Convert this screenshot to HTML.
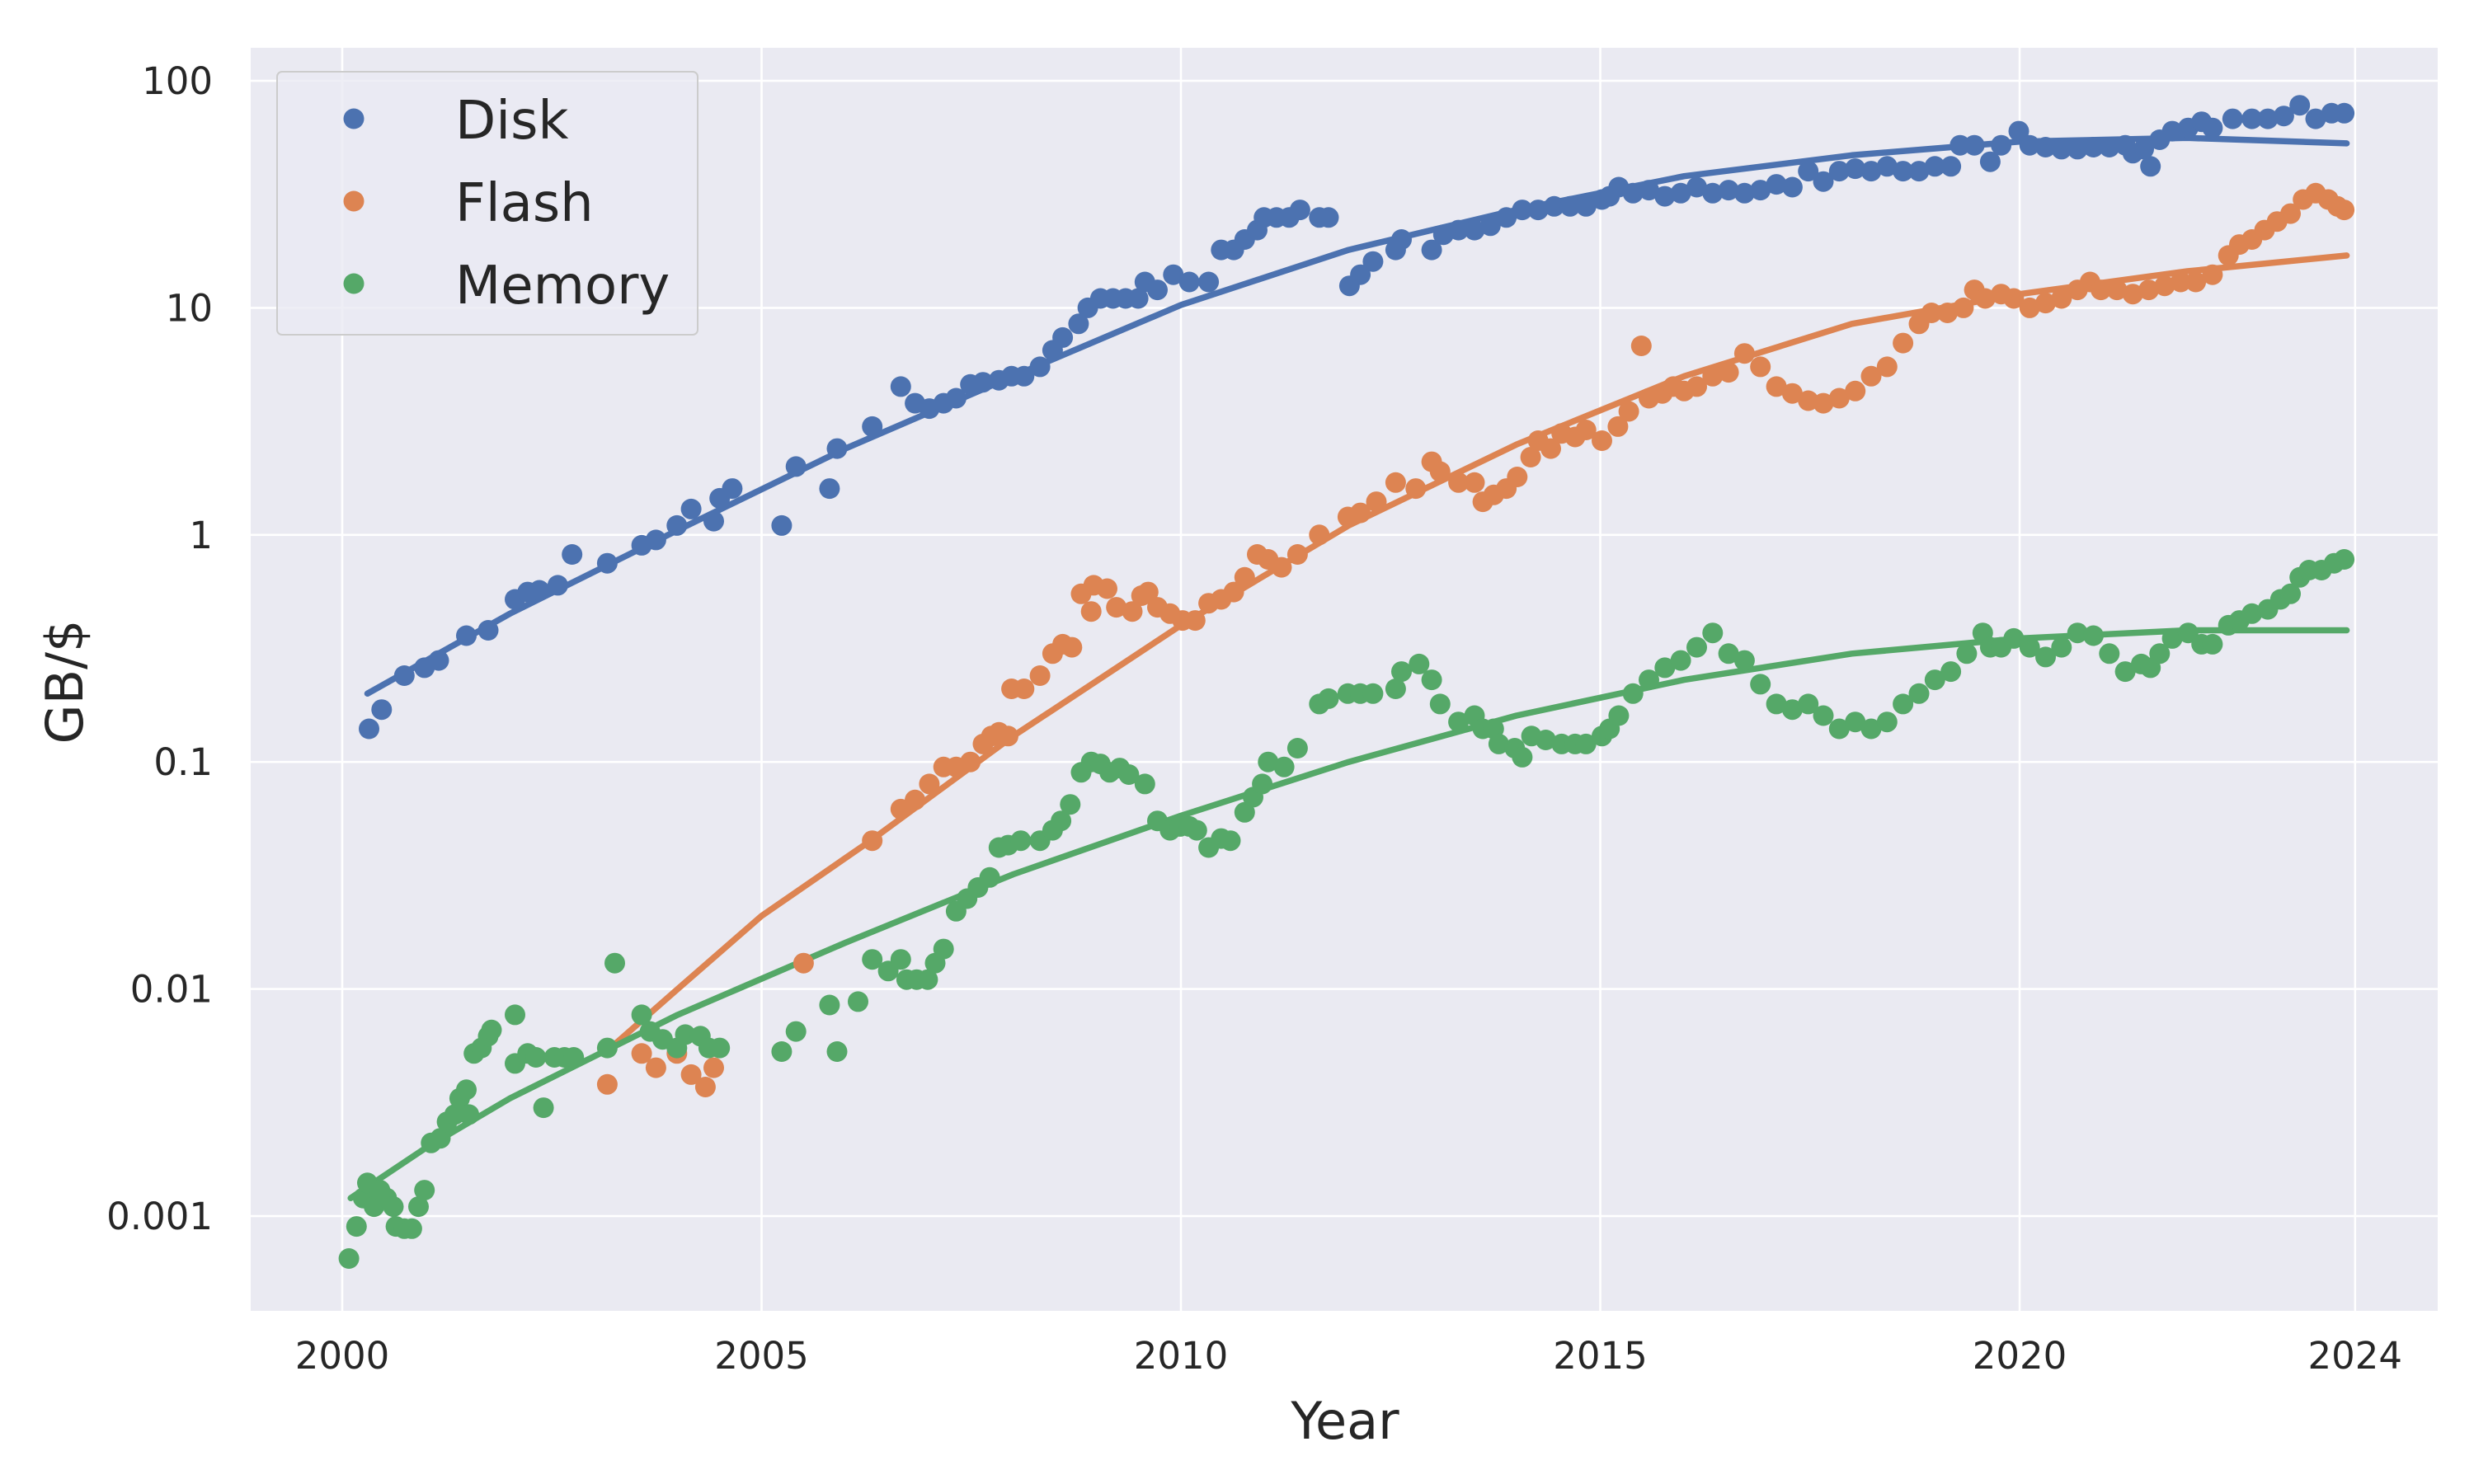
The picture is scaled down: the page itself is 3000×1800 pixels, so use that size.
<!DOCTYPE html>
<html><head><meta charset="utf-8"><style>
html,body{margin:0;padding:0;background:#fff;}
svg{display:block;font-family:"DejaVu Sans","Liberation Sans",sans-serif;}
</style></head><body>
<svg id="chart" width="3000" height="1800" viewBox="0 0 3000 1800" xmlns="http://www.w3.org/2000/svg">
<rect x="304" y="58" width="2652" height="1532" fill="#eaeaf2"/>
<g id="grid"></g>
<g id="fits"></g>
<g id="points"></g>
<g id="ticks" fill="#262626" font-size="45"></g>
<text x="1631" y="1745" text-anchor="middle" font-size="62" fill="#262626">Year</text>
<text transform="translate(100,827) rotate(-90)" text-anchor="middle" font-size="62" fill="#262626">GB/$</text>
<g id="legend">
<rect x="336" y="87" width="510" height="319" rx="6" fill="#eaeaf2" fill-opacity="0.8" stroke="#cccccc" stroke-width="2"/>
<g><circle cx="429" cy="144" r="12.5" fill="#4c72b0"/><text x="552" y="168" font-size="64" fill="#262626">Disk</text></g>
<g><circle cx="429" cy="244" r="12.5" fill="#dd8452"/><text x="552" y="268" font-size="64" fill="#262626">Flash</text></g>
<g><circle cx="429" cy="344" r="12.5" fill="#55a868"/><text x="552" y="368" font-size="64" fill="#262626">Memory</text></g>
</g>
</svg>
<script>
const xTicks=[2000,2005,2010,2015,2020,2024];
const yTicks=[0.001,0.01,0.1,1,10,100];
const yTickLabels=["0.001","0.01","0.1","1","10","100"];
const diskYears=[2000.32,2000.47,2000.74,2000.98,2001.15,2001.48,2001.74,2002.06,2002.21,2002.35,2002.57,2002.74,2003.16,2003.57,2003.74,2003.99,2004.16,2004.43,2004.5,2004.65,2005.24,2005.41,2005.81,2005.9,2006.32,2006.66,2006.83,2007.0,2007.17,2007.32,2007.49,2007.64,2007.83,2007.98,2008.13,2008.32,2008.47,2008.59,2008.78,2008.89,2009.04,2009.19,2009.34,2009.49,2009.57,2009.72,2009.91,2010.1,2010.33,2010.48,2010.63,2010.76,2010.91,2010.99,2011.14,2011.29,2011.42,2011.65,2011.76,2012.01,2012.14,2012.29,2012.56,2012.63,2012.99,2013.13,2013.31,2013.5,2013.69,2013.88,2014.07,2014.26,2014.45,2014.64,2014.83,2015.02,2015.11,2015.22,2015.39,2015.58,2015.77,2015.96,2016.15,2016.34,2016.53,2016.72,2016.91,2017.1,2017.29,2017.48,2017.66,2017.85,2018.04,2018.23,2018.42,2018.61,2018.8,2018.99,2019.18,2019.29,2019.46,2019.65,2019.78,2019.99,2020.12,2020.31,2020.5,2020.69,2020.88,2021.07,2021.26,2021.35,2021.48,2021.56,2021.67,2021.82,2022.01,2022.17,2022.3,2022.54,2022.77,2022.96,2023.15,2023.34,2023.53,2023.72,2023.87];
const diskValues=[0.14,0.17,0.24,0.26,0.28,0.36,0.38,0.52,0.56,0.57,0.6,0.82,0.75,0.9,0.95,1.1,1.3,1.15,1.45,1.6,1.1,2.0,1.6,2.4,3.0,4.5,3.8,3.6,3.8,4.0,4.6,4.7,4.8,5.0,5.0,5.5,6.5,7.4,8.5,10,11,11,11,11,13,12,14,13,13,18,18,20,22,25,25,25,27,25,25,12.5,14,16,18,20,18,21,22,22,23,25,27,27,28,28,28,30,31,34,32,33,31,32,34,32,33,32,33,35,34,40,36,40,41,40,42,40,40,42,42,52,52,44,52,60,52,51,50,50,51,51,52,48,50,42,55,60,62,66,62,68,68,68,70,78,68,72,72];
const diskFitYears=[2000.3,2002,2004,2006,2008,2010,2012,2014,2016,2018,2020,2022,2023.9];
const diskFitValues=[0.2,0.45,1.05,2.4,5,10.3,18,27,38,47,54,56,53];
const flashYears=[2003.16,2003.57,2003.74,2003.99,2004.16,2004.33,2004.43,2005.5,2006.32,2006.66,2006.83,2007.0,2007.17,2007.32,2007.49,2007.64,2007.74,2007.83,2007.94,2007.98,2008.13,2008.32,2008.47,2008.59,2008.7,2008.81,2008.93,2008.96,2009.12,2009.23,2009.42,2009.53,2009.61,2009.72,2009.87,2010.02,2010.17,2010.33,2010.48,2010.63,2010.76,2010.91,2011.04,2011.2,2011.39,2011.65,2011.99,2012.14,2012.33,2012.56,2012.8,2012.99,2013.09,2013.31,2013.5,2013.6,2013.73,2013.88,2014.01,2014.17,2014.26,2014.41,2014.54,2014.7,2014.83,2015.02,2015.21,2015.34,2015.49,2015.58,2015.74,2015.87,2016.0,2016.15,2016.34,2016.53,2016.72,2016.91,2017.1,2017.29,2017.48,2017.66,2017.85,2018.04,2018.23,2018.42,2018.61,2018.8,2018.95,2019.14,2019.33,2019.46,2019.59,2019.78,2019.93,2020.12,2020.31,2020.5,2020.69,2020.84,2020.97,2021.16,2021.35,2021.54,2021.73,2021.92,2022.1,2022.3,2022.49,2022.62,2022.77,2022.92,2023.07,2023.23,2023.38,2023.53,2023.68,2023.79,2023.87];
const flashValues=[0.0038,0.0052,0.0045,0.0052,0.0042,0.0037,0.0045,0.013,0.045,0.062,0.068,0.08,0.095,0.095,0.1,0.12,0.13,0.135,0.13,0.21,0.21,0.24,0.3,0.33,0.32,0.55,0.46,0.6,0.58,0.48,0.46,0.54,0.56,0.48,0.45,0.42,0.42,0.5,0.52,0.56,0.65,0.82,0.78,0.72,0.82,1.0,1.2,1.25,1.4,1.7,1.6,2.1,1.9,1.7,1.7,1.4,1.5,1.6,1.8,2.2,2.6,2.4,2.8,2.7,2.9,2.6,3.0,3.5,6.8,4.0,4.2,4.5,4.3,4.5,5.0,5.2,6.3,5.5,4.5,4.2,3.9,3.8,4.0,4.3,5.0,5.5,7.0,8.5,9.5,9.5,10,12,11,11.5,11,10,10.5,11,12,13,12,12,11.5,12,12.5,13,13,14,17,19,20,22,24,26,30,32,30,28,27];
const flashFitYears=[2003.2,2004,2005,2006.3,2008,2010,2012,2014,2016,2018,2020,2022,2023.9];
const flashFitValues=[0.0055,0.01,0.021,0.045,0.13,0.4,1.1,2.5,5,8.5,11.5,14.5,17];
const memYears=[2000.08,2000.17,2000.25,2000.3,2000.38,2000.45,2000.53,2000.61,2000.64,2000.74,2000.83,2000.91,2000.98,2001.06,2001.17,2001.25,2001.34,2001.4,2001.48,2001.51,2001.57,2001.66,2001.74,2001.78,2002.06,2002.06,2002.21,2002.31,2002.4,2002.53,2002.65,2002.76,2003.16,2003.25,2003.57,2003.67,2003.82,2003.99,2004.09,2004.27,2004.37,2004.5,2005.24,2005.41,2005.81,2005.9,2006.15,2006.32,2006.51,2006.66,2006.73,2006.85,2006.98,2007.07,2007.17,2007.32,2007.45,2007.58,2007.72,2007.83,2007.94,2008.09,2008.32,2008.47,2008.57,2008.68,2008.81,2008.93,2009.04,2009.15,2009.27,2009.38,2009.57,2009.72,2009.87,2009.99,2010.1,2010.19,2010.33,2010.48,2010.59,2010.76,2010.86,2010.97,2011.04,2011.23,2011.39,2011.65,2011.76,2011.99,2012.14,2012.29,2012.56,2012.63,2012.84,2012.99,2013.09,2013.31,2013.5,2013.6,2013.73,2013.79,2013.98,2014.07,2014.18,2014.35,2014.54,2014.7,2014.83,2015.02,2015.11,2015.22,2015.39,2015.58,2015.77,2015.96,2016.15,2016.34,2016.53,2016.72,2016.91,2017.1,2017.29,2017.48,2017.66,2017.85,2018.04,2018.23,2018.42,2018.61,2018.8,2018.99,2019.18,2019.37,2019.56,2019.65,2019.78,2019.93,2020.12,2020.31,2020.5,2020.69,2020.88,2021.07,2021.26,2021.45,2021.56,2021.67,2021.82,2022.01,2022.17,2022.3,2022.49,2022.62,2022.77,2022.96,2023.11,2023.23,2023.34,2023.45,2023.6,2023.75,2023.87];
const memValues=[0.00065,0.0009,0.0012,0.0014,0.0011,0.0013,0.0012,0.0011,0.0009,0.00088,0.00088,0.0011,0.0013,0.0021,0.0022,0.0026,0.0028,0.0033,0.0036,0.0028,0.0052,0.0055,0.0062,0.0066,0.0077,0.0047,0.0052,0.005,0.003,0.005,0.005,0.005,0.0055,0.013,0.0077,0.0065,0.006,0.0055,0.0063,0.0062,0.0055,0.0055,0.0053,0.0065,0.0085,0.0053,0.0088,0.0135,0.012,0.0135,0.011,0.011,0.011,0.013,0.015,0.022,0.025,0.028,0.031,0.042,0.043,0.045,0.045,0.05,0.055,0.065,0.09,0.1,0.098,0.09,0.094,0.088,0.08,0.055,0.05,0.052,0.052,0.05,0.042,0.046,0.045,0.06,0.07,0.08,0.1,0.095,0.115,0.18,0.19,0.2,0.2,0.2,0.21,0.25,0.27,0.23,0.18,0.15,0.16,0.14,0.14,0.12,0.115,0.105,0.13,0.125,0.12,0.12,0.12,0.13,0.14,0.16,0.2,0.23,0.26,0.28,0.32,0.37,0.3,0.28,0.22,0.18,0.17,0.18,0.16,0.14,0.15,0.14,0.15,0.18,0.2,0.23,0.25,0.3,0.37,0.32,0.32,0.35,0.32,0.29,0.32,0.37,0.36,0.3,0.25,0.27,0.26,0.3,0.35,0.37,0.33,0.33,0.4,0.42,0.45,0.47,0.52,0.55,0.65,0.7,0.7,0.75,0.78];
const memFitYears=[2000.1,2001,2002,2004,2006,2008,2010,2012,2014,2016,2018,2020,2022,2023.9];
const memFitValues=[0.0012,0.002,0.0033,0.0077,0.016,0.032,0.058,0.1,0.16,0.23,0.3,0.35,0.38,0.38];

const NS="http://www.w3.org/2000/svg";
function xs(yr){return 415+(yr-2000)*101.7;}
function ys(v){return 98+(2-Math.log10(v))*275.4;}
const grid=document.getElementById('grid'),ticks=document.getElementById('ticks');
xTicks.forEach(t=>{
  const l=document.createElementNS(NS,'line');
  
  
  l.setAttribute('x1',xs(t));l.setAttribute('x2',xs(t));l.setAttribute('y1',58);l.setAttribute('y2',1590);
  l.setAttribute('stroke','#fff');l.setAttribute('stroke-width','2.6');grid.appendChild(l);
  const tx=document.createElementNS(NS,'text');
  
  
  tx.setAttribute('x',xs(t));tx.setAttribute('y',1660);tx.setAttribute('text-anchor','middle');
  tx.textContent=t;ticks.appendChild(tx);
});
yTicks.forEach((t,i)=>{
  const l=document.createElementNS(NS,'line');
  
  
  l.setAttribute('x1',304);l.setAttribute('x2',2956);l.setAttribute('y1',ys(t));l.setAttribute('y2',ys(t));
  l.setAttribute('stroke','#fff');l.setAttribute('stroke-width','2.6');grid.appendChild(l);
  const tx=document.createElementNS(NS,'text');
  
  
  tx.setAttribute('x',258);tx.setAttribute('y',ys(t)+16);tx.setAttribute('text-anchor','end');
  tx.textContent=yTickLabels[i];ticks.appendChild(tx);
});
const fits=document.getElementById('fits'),pts=document.getElementById('points');
function fit(yrs,vals,color,name){
  const p=document.createElementNS(NS,'polyline');
  
  
  p.setAttribute('points',yrs.map((y,i)=>xs(y).toFixed(1)+','+ys(vals[i]).toFixed(1)).join(' '));
  p.setAttribute('fill','none');p.setAttribute('stroke',color);p.setAttribute('stroke-width','7.5');
  p.setAttribute('stroke-linejoin','round');p.setAttribute('stroke-linecap','round');
  fits.appendChild(p);
}
function scatter(yrs,vals,color,name){
  const g=document.createElementNS(NS,'g');
  
  
  yrs.forEach((y,i)=>{
    const c=document.createElementNS(NS,'circle');
    
    
    c.setAttribute('cx',xs(y).toFixed(1));c.setAttribute('cy',ys(vals[i]).toFixed(1));
    c.setAttribute('r','12.5');c.setAttribute('fill',color);g.appendChild(c);
  });
  pts.appendChild(g);
}
scatter(diskYears,diskValues,'#4c72b0','disk-points');
scatter(flashYears,flashValues,'#dd8452','flash-points');
scatter(memYears,memValues,'#55a868','memory-points');
fit(diskFitYears,diskFitValues,'#4c72b0','disk-fit-line');
fit(flashFitYears,flashFitValues,'#dd8452','flash-fit-line');
fit(memFitYears,memFitValues,'#55a868','memory-fit-line');
</script>
</body></html>
